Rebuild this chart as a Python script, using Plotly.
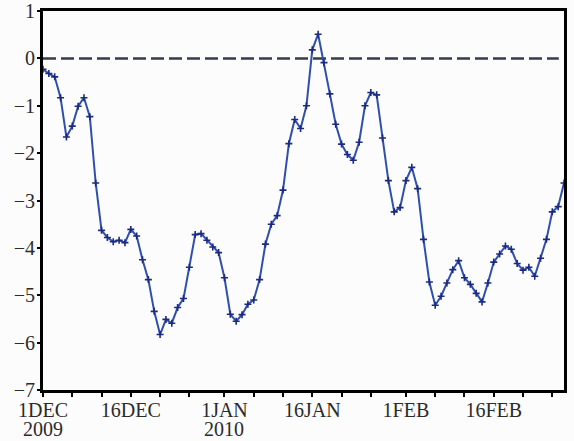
import plotly.graph_objects as go
import pandas as pd

# Daily values, 1 Dec 2009 .. 28 Feb 2010
start_date = "2009-12-01"
end_date = "2010-02-28"
values = [
    -0.23, -0.32, -0.39, -0.83, -1.66, -1.43, -1.01, -0.83, -1.23, -2.63,
    -3.63, -3.78, -3.87, -3.84, -3.89, -3.61, -3.75, -4.25, -4.67, -5.34,
    -5.83, -5.51, -5.59, -5.26, -5.07, -4.41, -3.72, -3.70, -3.84, -3.98,
    -4.10, -4.63, -5.40, -5.55, -5.41, -5.19, -5.10, -4.67, -3.92, -3.50,
    -3.32, -2.78, -1.80, -1.29, -1.48, -1.00, 0.18, 0.51, -0.09, -0.75,
    -1.39, -1.81, -2.03, -2.15, -1.77, -1.00, -0.72, -0.77, -1.68, -2.58,
    -3.24, -3.15, -2.58, -2.30, -2.75, -3.82, -4.72, -5.21, -5.02, -4.74,
    -4.46, -4.27, -4.63, -4.77, -4.96, -5.14, -4.74, -4.30, -4.13, -3.96,
    -4.03, -4.33, -4.47, -4.41, -4.60, -4.22, -3.82, -3.24, -3.13, -2.63,
]
dates = pd.date_range(start_date, end_date, freq="D")

tick_dates = [
    "2009-12-01", "2009-12-06", "2009-12-11", "2009-12-16", "2009-12-21", "2009-12-26",
    "2010-01-01", "2010-01-06", "2010-01-11", "2010-01-16", "2010-01-21", "2010-01-26",
    "2010-02-01", "2010-02-06", "2010-02-11", "2010-02-16", "2010-02-21", "2010-02-26",
]
tick_text = [
    "1DEC", "", "", "16DEC", "", "",
    "1JAN", "", "", "16JAN", "", "",
    "1FEB", "", "", "16FEB", "", "",
]
year_labels = [("2009-12-01", "2009"), ("2010-01-01", "2010")]
y_ticks = [-7, -6, -5, -4, -3, -2, -1, 0, 1]

font_family = "Liberation Serif, Times New Roman, serif"
fsize = 20
fig = go.Figure()

fig.add_shape(type="line", xref="paper", yref="y", x0=0, x1=0.99, y0=0, y1=0,
              line=dict(color="#353c4a", width=2.5, dash="13px,5px"), layer="below")

fig.add_trace(go.Scatter(
    x=dates, y=values, mode="lines+markers",
    line=dict(color="#2f4fae", width=2),
    marker=dict(symbol="cross-thin", size=5, line=dict(width=1.6, color="#1b2a80")),
    showlegend=False,
))

for d, t in year_labels:
    fig.add_annotation(x=d, y=0, xref="x", yref="paper", text=t, showarrow=False,
                       yanchor="top", yshift=-26, font=dict(family=font_family, size=fsize, color="#2b2b2b"))

fig.update_layout(
    width=574, height=441,
    margin=dict(l=43, r=10, t=11, b=51),
    paper_bgcolor="#fcfcfc", plot_bgcolor="#fcfcfc",
    font=dict(family=font_family, size=fsize, color="#2b2b2b"),
)
fig.update_xaxes(
    range=[start_date, end_date], tickvals=tick_dates, ticktext=tick_text,
    showgrid=False, zeroline=False, showline=True, linecolor="#000", linewidth=3,
    mirror=True, ticks="outside", ticklen=4, tickwidth=2, tickcolor="#000",
    automargin=False, ticklabelstandoff=-4,
    tickfont=dict(family=font_family, size=fsize, color="#2b2b2b"),
)
fig.update_yaxes(
    range=[-7, 1], tickvals=y_ticks,
    showgrid=False, zeroline=False, showline=True, linecolor="#000", linewidth=3,
    mirror=True, ticks="outside", ticklen=3, tickwidth=2, tickcolor="#000",
    automargin=False, ticklabelstandoff=-2,
    tickfont=dict(family=font_family, size=fsize, color="#2b2b2b"),
)

fig.write_html("out.html", config={"displayModeBar": False},
               post_script="document.body.style.margin='0';document.body.style.background='#fcfcfc';")
